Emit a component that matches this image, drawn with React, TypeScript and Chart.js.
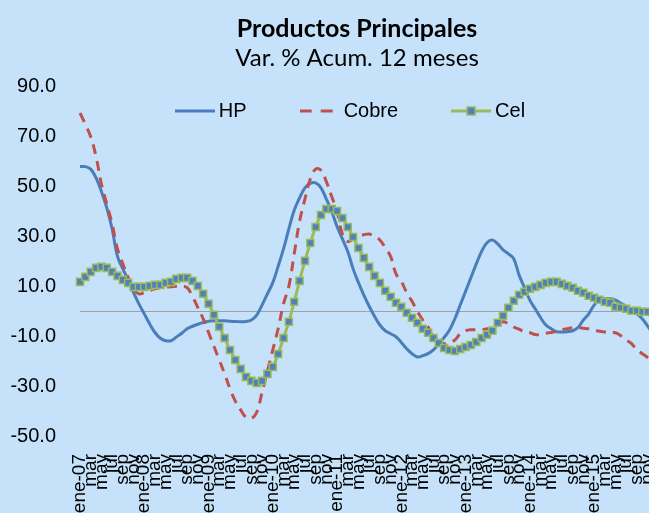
import React, { useEffect, useRef } from 'react';
import { Chart, registerables } from 'chart.js';

Chart.register(...registerables);

const MONTHS = ['ene', 'feb', 'mar', 'abr', 'may', 'jun', 'jul', 'ago', 'sep', 'oct', 'nov', 'dic'];
const YEARS = ['07', '08', '09', '10', '11', '12', '13', '14', '15'];
const CATEGORIES = YEARS.flatMap((y) => MONTHS.map((m, i) => (i === 0 ? `${m}-${y}` : m)));

const TITLE = 'Productos Principales';
const SUBTITLE = 'Var. % Acum. 12 meses';
const SERIES_NAMES = ['HP', 'Cobre', 'Cel'];

const HP = [
  58, 58, 57, 53.5, 48, 41.5, 33, 22, 17, 12.5, 7.5, 3,
  -1, -5, -8.5, -10.8, -11.8, -11.8, -10.3, -8.8, -7, -6, -5.2, -4.5,
  -4, -3.8, -3.8, -3.8, -4, -4.1, -4.2, -4.1, -3.5, -1.5, 2.5, 7,
  11.5, 18, 25, 33, 40.5, 45.5, 49.5, 51.3, 51.5, 49.5, 45, 40,
  34, 29, 24, 17, 11.5, 6.5, 2, -2, -5.5, -7.8, -9, -10.2,
  -12.5, -15, -17, -18.3, -17.8, -17, -15.5, -13, -10.5, -7.5, -3, 2.5,
  8, 13.5, 19, 24, 27.5, 28.6, 27, 24.6, 23, 21, 14.5, 9.5,
  4.5, 1, -2.5, -5.5, -7, -8.2, -8.3, -8.2, -7.8, -6.5, -3.5, -1,
  2.5, 4.5, 5, 5, 4.5, 3.2, 2, 0.5, -1, -3, -6, -9,
];

const COBRE = [
  79.5, 75, 70, 62, 51, 43, 35, 25, 19, 13.5, 9, 7,
  7.5, 8.3, 9, 9.5, 9.7, 9.8, 10, 10, 9.5, 6, 1.5, -3,
  -8.5, -14, -19.5, -25, -31, -36, -39.5, -42.5, -43, -40.5, -32.5, -24,
  -15.5, -7, 3, 10, 23, 36, 45, 53, 57, 56.5, 52, 46,
  40, 31, 28, 29, 30, 30.7, 31, 30, 28.6, 25.5, 22, 15,
  12, 7.5, 4, 0, -3.5, -6.2, -10.5, -12, -13, -12.5, -11.5, -9,
  -7.8, -7.4, -7.4, -7.4, -7, -6.6, -5.5, -4.2, -5, -6.3, -7.2, -8.2,
  -8.6, -9.3, -9.3, -8.8, -8.5, -8, -7.4, -7, -6.6, -6.6, -6.8, -7,
  -7.5, -8, -8.3, -8.5, -8.6, -9.8, -11.5, -13, -15.5, -17, -18.5, -20,
];

const CEL = [
  11.8, 13.8, 15.8, 17.4, 17.8, 17.4, 15.8, 14.2, 12.6, 11.4, 9.8, 9.8,
  9.8, 10.2, 10.6, 10.6, 11.4, 11.8, 13, 13.4, 13.4, 12.2, 10.2, 7,
  3, -1.4, -6.2, -10.7, -15.5, -19.5, -23.1, -26.3, -27.9, -28.7, -27.9, -25.1,
  -22.3, -17.1, -10.7, -4.2, 3.8, 12.2, 20.2, 27.4, 33.8, 38.6, 41, 41,
  40.2, 37.4, 33.8, 29.8, 25.4, 21.4, 17.8, 14.2, 11.4, 8.2, 5.8, 3.4,
  1.8, -0.6, -2.6, -4.6, -7, -8.6, -10.7, -12.7, -14.7, -15.5, -15.9, -15.1,
  -14.3, -13.5, -12.3, -10.7, -9.4, -7.8, -4.6, -1.8, 1.4, 4.2, 6.6, 7.8,
  9, 9.8, 10.6, 11.4, 11.8, 11.8, 11, 10.2, 9.4, 8.2, 7.4, 6.2,
  5.4, 4.6, 3.8, 3.4, 1.8, 1.4, 1, 0.2, 0.2, -0.2, -0.2, -0.5,
];

const Y_MIN = -50;
const Y_MAX = 90;
const Y_STEP = 20;

const BG = '#C6E2FA';
const BLUE = '#4A7EBB';
const RED = '#C0504D';
const GREEN = '#9BBB59';
const MARKER = '#4F81BD';

const LEGEND_PAD = 59;
const LEGEND_Y = 111;

function makeSample(kind: string): HTMLCanvasElement {
  const c = document.createElement('canvas');
  c.width = 40;
  c.height = 12;
  const g = c.getContext('2d')!;
  g.lineWidth = 3;
  g.lineCap = 'butt';
  if (kind === 'hp') {
    g.strokeStyle = BLUE;
    g.beginPath(); g.moveTo(0, 6); g.lineTo(40, 6); g.stroke();
  } else if (kind === 'cobre') {
    g.strokeStyle = RED;
    g.setLineDash([12, 9]);
    g.beginPath(); g.moveTo(0, 6); g.lineTo(34, 6); g.stroke();
  } else {
    g.strokeStyle = GREEN;
    g.beginPath(); g.moveTo(0, 6); g.lineTo(40, 6); g.stroke();
    g.fillStyle = MARKER;
    g.fillRect(16, 2, 8, 8);
    g.lineWidth = 1.5;
    g.strokeRect(16, 2, 8, 8);
  }
  return c;
}

const zeroLine = {
  id: 'zeroLine',
  beforeDatasetsDraw(chart: any) {
    const { ctx, chartArea, scales } = chart;
    const y = Math.round(scales.y.getPixelForValue(0)) + 0.5;
    ctx.save();
    ctx.strokeStyle = '#A0A0A0';
    ctx.lineWidth = 1;
    ctx.beginPath();
    ctx.moveTo(chartArea.left, y);
    ctx.lineTo(chartArea.right, y);
    ctx.stroke();
    ctx.restore();
  },
};

const legendOverlay = {
  id: 'legendOverlay',
  beforeInit(chart: any) {
    const lg = chart.legend;
    if (!lg || lg._patched) return;
    const fit = lg.fit;
    lg.fit = function () {
      fit.call(this);
      this._fullH = this.height;
      this.height = 0;
    };
    lg._patched = true;
  },
  afterLayout(chart: any) {
    const lg = chart.legend;
    if (!lg) return;
    const top = LEGEND_Y - LEGEND_PAD - 10;
    lg.top = top;
    lg.bottom = top + 2 * LEGEND_PAD + 40;
    lg.height = lg.bottom - lg.top;
    lg.left = -4;
    lg.right = chart.width - 4;
  },
};

export default function App() {
  const ref = useRef<HTMLCanvasElement | null>(null);

  useEffect(() => {
    if (!ref.current) return;
    const samples = [makeSample('hp'), makeSample('cobre'), makeSample('cel')];
    const chart = new Chart(ref.current, {
      type: 'line',
      data: {
        labels: CATEGORIES,
        datasets: [
          {
            label: SERIES_NAMES[0],
            data: HP,
            borderColor: BLUE,
            borderWidth: 3,
            pointRadius: 0,
            tension: 0.4,
            order: 2,
          },
          {
            label: SERIES_NAMES[1],
            data: COBRE,
            borderColor: RED,
            borderWidth: 3,
            borderDash: [10, 7],
            pointRadius: 0,
            tension: 0.4,
            order: 1,
          },
          {
            label: SERIES_NAMES[2],
            data: CEL,
            borderColor: GREEN,
            borderWidth: 3,
            pointStyle: 'rect',
            pointRadius: 5,
            pointBackgroundColor: MARKER,
            pointBorderColor: GREEN,
            pointBorderWidth: 1.5,
            tension: 0.4,
            order: 0,
          },
        ],
      },
      options: {
        animation: false,
        responsive: true,
        maintainAspectRatio: false,
        layout: { padding: 0 },
        plugins: {
          title: {
            display: true,
            text: TITLE,
            color: '#000',
            font: { family: 'Lato', size: 25, weight: 'bold', lineHeight: 1.2 },
            padding: { top: 14, bottom: 0 },
          },
          subtitle: {
            display: true,
            text: SUBTITLE,
            color: '#000',
            font: { family: 'Lato', size: 24, weight: 'normal', lineHeight: 1.2 },
            padding: { top: 0, bottom: 14 },
          },
          legend: {
            display: true,
            position: 'top',
            labels: {
              usePointStyle: true,
              pointStyleWidth: 28,
              padding: LEGEND_PAD,
              color: '#000',
              font: { family: 'Liberation Sans', size: 20 },
              generateLabels: (c: any) =>
                c.data.datasets.map((ds: any, i: number) => ({
                  text: ds.label,
                  pointStyle: samples[i],
                  datasetIndex: i,
                  hidden: false,
                  lineWidth: 0,
                  fontColor: '#000',
                })),
            },
          },
          tooltip: { enabled: false },
        },
        scales: {
          x: {
            type: 'category',
            grid: { display: false },
            border: { display: false },
            ticks: {
              autoSkip: false,
              maxRotation: 90,
              minRotation: 90,
              padding: 10,
              color: '#000',
              font: { family: 'Liberation Sans', size: 19 },
              callback: (_v: any, i: number) => (i % 2 === 0 ? CATEGORIES[i] : ''),
            },
            afterFit: (s: any) => {
              s.height = 90;
            },
          },
          y: {
            type: 'linear',
            position: 'left',
            min: Y_MIN,
            max: Y_MAX,
            grid: { display: false },
            border: { display: false },
            ticks: {
              stepSize: Y_STEP,
              padding: 16,
              color: '#000',
              font: { family: 'Liberation Sans', size: 20 },
              callback: (v: any) => Number(v).toFixed(1),
            },
            afterFit: (s: any) => {
              s.width = 80;
            },
          },
          yR: {
            type: 'linear',
            position: 'right',
            display: true,
            grid: { display: false },
            border: { display: false },
            ticks: { display: false },
            afterFit: (s: any) => {
              s.width = 61;
            },
          },
        },
      } as any,
      plugins: [zeroLine, legendOverlay],
    });
    return () => chart.destroy();
  }, []);

  return (
    <div
      style={{
        position: 'fixed',
        left: 0,
        top: 0,
        width: 649,
        height: 513,
        overflow: 'hidden',
        background: BG,
      }}
    >
      <div style={{ position: 'absolute', left: 0, top: 0, width: 714, height: 526 }}>
        <canvas ref={ref} />
      </div>
    </div>
  );
}
